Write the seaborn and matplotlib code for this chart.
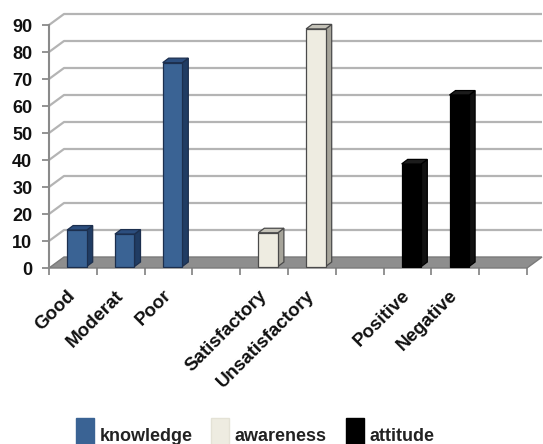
import matplotlib
matplotlib.use("Agg")
import matplotlib.pyplot as plt
from matplotlib.patches import Polygon, Patch, Rectangle
import pandas as pd
import seaborn as sns

# ---- data -------------------------------------------------------------
knowledge_labels = ["Good", "Moderat", "Poor"]
knowledge_values = [13.5, 12.0, 75.5]
awareness_labels = ["Satisfactory", "Unsatisfactory"]
awareness_values = [12.5, 88.0]
attitude_labels = ["Positive", "Negative"]
attitude_values = [38.0, 63.5]
series_names = ["knowledge", "awareness", "attitude"]
y_ticks = list(range(0, 100, 10))

# empty slots separate the three groups on the category axis
order = knowledge_labels + [" "] + awareness_labels + ["  "] + attitude_labels + ["   "]

df = pd.DataFrame({
    "category": knowledge_labels + awareness_labels + attitude_labels,
    "value": knowledge_values + awareness_values + attitude_values,
    "group": [series_names[0]] * len(knowledge_labels)
    + [series_names[1]] * len(awareness_labels)
    + [series_names[2]] * len(attitude_labels),
})

face = {"knowledge": "#3A6394", "awareness": "#EEECE1", "attitude": "#000000"}
side = {"knowledge": "#203C63", "awareness": "#A6A49A", "attitude": "#111111"}
top = {"knowledge": "#2C4E7E", "awareness": "#C4C2B8", "attitude": "#1C1C1C"}
edge = {"knowledge": "#1C2F4E", "awareness": "#4A4A4A", "attitude": "#000000"}

# ---- figure -----------------------------------------------------------
sns.set_theme(style="white")
plt.rcParams["font.family"] = ["Liberation Sans", "DejaVu Sans"]
plt.rcParams["font.weight"] = "bold"

W, H = 543, 444
fig = plt.figure(figsize=(W / 100, H / 100), dpi=100)
x_left, x_right, y_bottom, y_top = 49, 527, 268, 25
ax = fig.add_axes([x_left / W, 1 - y_bottom / H, (x_right - x_left) / W, (y_bottom - y_top) / H])

sns.barplot(data=df, x="category", y="value", hue="group", order=order,
            hue_order=series_names, palette=face, dodge=False, width=0.41,
            saturation=1, legend=False, ax=ax, zorder=5)
bars = [p for p in ax.patches if isinstance(p, Rectangle) and p.get_height() > 0]

ax.set_xlim(-0.5, len(order) - 0.5)
ax.set_ylim(0, 90)

# pixel -> data unit helpers
px_x = (len(order)) / (x_right - x_left)
px_y = 90 / (y_bottom - y_top)

# depth of the floor / back wall, and depth of each bar
wall_dx, wall_dy = 15 * px_x, 11 * px_y
bar_dx, bar_dy = 6 * px_x, 4.5 * px_y
bar_shift_x, bar_shift_y = 4 * px_x, 1.5 * px_y

grid_c = "#B4B4B4"
# floor
x0, x1 = -0.5, len(order) - 0.5
ax.add_patch(Polygon([(x0, 0), (x1, 0), (x1 + wall_dx, wall_dy), (x0 + wall_dx, wall_dy)],
                     closed=True, facecolor="#8E8E8E", edgecolor="#7A7A7A",
                     linewidth=1, clip_on=False, zorder=1))
# back wall gridlines with their diagonal links to the front axis
for t in y_ticks[1:]:
    ax.plot([x0, x0 + wall_dx, x1 + wall_dx], [t, t + wall_dy, t + wall_dy],
            color=grid_c, linewidth=1.6, clip_on=False, zorder=0,
            solid_capstyle="butt")

# 3-D faces for every bar
groups_by_cat = dict(zip(df["category"], df["group"]))
for p in bars:
    cx = p.get_x() + p.get_width() / 2
    cat = order[int(round(cx))]
    g = groups_by_cat[cat]
    p.set_x(p.get_x() + bar_shift_x)
    p.set_y(bar_shift_y)
    p.set_edgecolor(edge[g])
    p.set_linewidth(0.9)
    x, w = p.get_x(), p.get_width()
    yb, yt = p.get_y(), p.get_y() + p.get_height()
    ax.add_patch(Polygon([(x + w, yb), (x + w + bar_dx, yb + bar_dy),
                          (x + w + bar_dx, yt + bar_dy), (x + w, yt)],
                         closed=True, facecolor=side[g], edgecolor=edge[g],
                         linewidth=0.9, zorder=4, clip_on=False))
    ax.add_patch(Polygon([(x, yt), (x + bar_dx, yt + bar_dy),
                          (x + w + bar_dx, yt + bar_dy), (x + w, yt)],
                         closed=True, facecolor=top[g], edgecolor=edge[g],
                         linewidth=0.9, zorder=4, clip_on=False))

# ---- axes -------------------------------------------------------------
for s in ["top", "right"]:
    ax.spines[s].set_visible(False)
ax.spines["left"].set_color("#8A8A8A")
ax.spines["left"].set_linewidth(1.5)
ax.spines["bottom"].set_visible(False)

ax.set_yticks(y_ticks)
ax.set_yticklabels([str(t) for t in y_ticks], fontsize=13, fontweight="bold", color="#111111")
ax.tick_params(axis="y", length=5, width=1.3, color="#8A8A8A", pad=7, left=True)

ax.set_xticks(range(len(order)))
ax.set_xticklabels(order, rotation=45, ha="right", va="center", rotation_mode="anchor",
                   fontsize=13.5, fontweight="bold", color="#111111")
ax.tick_params(axis="x", which="major", length=0, pad=18)
ax.set_xticks([i - 0.5 for i in range(len(order) + 1)], minor=True)
ax.tick_params(axis="x", which="minor", length=5, width=1.3, color="#8A8A8A", bottom=True)
ax.set_xlabel("")
ax.set_ylabel("")
ax.grid(False)

# ---- legend -----------------------------------------------------------
handles = [Patch(facecolor=face[g], edgecolor=face[g] if g != "awareness" else "#E4E2D6")
           for g in series_names]
fig.legend(handles, series_names, loc="lower left", bbox_to_anchor=(76 / W, -8.0 / H),
           ncol=3, frameon=False, handlelength=1.0, handleheight=2.5,
           handletextpad=0.3, columnspacing=1.05, borderpad=0, borderaxespad=0,
           prop={"family": ["Liberation Sans", "DejaVu Sans"], "weight": "bold", "size": 13},
           labelcolor="#222222")

fig.savefig("out.png", dpi=100, facecolor="white")
